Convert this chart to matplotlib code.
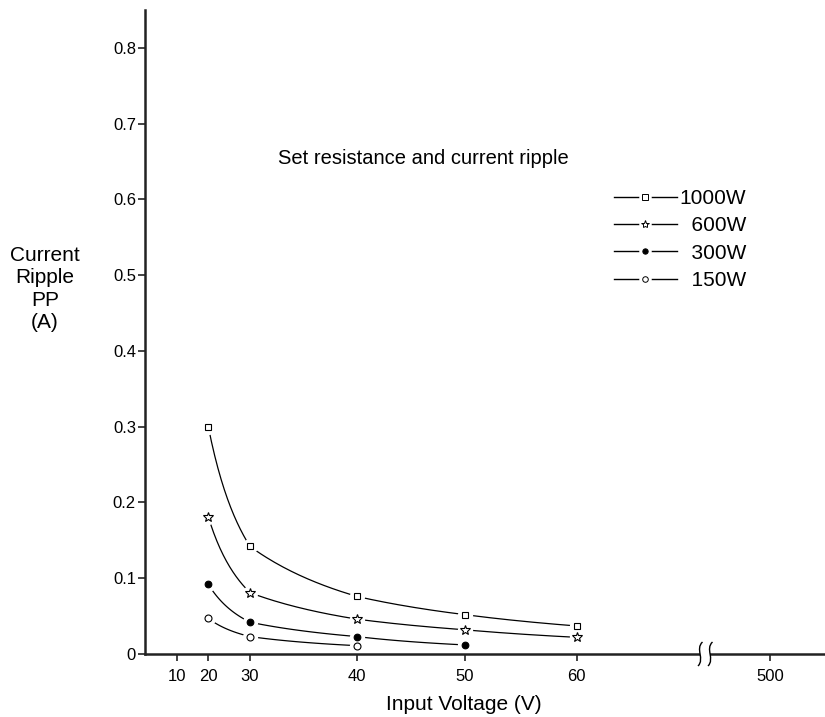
import numpy as np
import matplotlib.pyplot as plt
import matplotlib.transforms as mtransforms
from matplotlib.lines import Line2D
from matplotlib.legend_handler import HandlerTuple
from matplotlib.path import Path
from matplotlib.patches import PathPatch, Rectangle

plt.rcParams['font.family'] = ['Liberation Sans', 'DejaVu Sans']

# --- data -------------------------------------------------------------------
voltage = [20, 30, 40, 50, 60]
ripple_1000w = [0.300, 0.142, 0.076, 0.052, 0.037]
ripple_600w = [0.181, 0.081, 0.046, 0.032, 0.022]
ripple_300w = [0.092, 0.042, 0.023, 0.012]
ripple_150w = [0.047, 0.023, 0.011]

series_labels = ["1000W", "  600W", "  300W", "  150W"]
x_ticks = [10, 20, 30, 40, 50, 60, 500]
y_ticks = [0, 0.1, 0.2, 0.3, 0.4, 0.5, 0.6, 0.7, 0.8]
y_tick_labels = ["0", "0.1", "0.2", "0.3", "0.4", "0.5", "0.6", "0.7", "0.8"]

# the hand-drawn x axis is not linear: piecewise map value -> axis position
knot_v = [0, 10, 20, 30, 40, 50, 60, 500, 600]
knot_pos = [0, 31.6, 63.3, 105, 212, 319.5, 431.7, 625, 680]


def fwd(v):
    return np.interp(v, knot_v, knot_pos)


def inv(p):
    return np.interp(p, knot_pos, knot_v)


def curva(xs, ys, n=40):
    """smooth connecting curve through the points (power law piece by piece)"""
    cx, cy = [], []
    for (x0, y0), (x1, y1) in zip(zip(xs, ys), zip(xs[1:], ys[1:])):
        k = np.log(y1 / y0) / np.log(x1 / x0)
        x = np.linspace(x0, x1, n)
        cx.append(x)
        cy.append(y0 * (x / x0) ** k)
    return np.concatenate(cx), np.concatenate(cy)


fig = plt.figure(figsize=(8.25, 7.17), dpi=100)
ax = fig.add_axes([145 / 825, 63 / 717, 680 / 825, 644 / 717])
ax.set_xscale('function', functions=(fwd, inv))
ax.set_xlim(0, 600)
ax.set_ylim(0, 0.85)

stili = [
    (voltage, ripple_1000w, 's', 4.8, 'white'),
    (voltage, ripple_600w, '*', 7.5, 'white'),
    (voltage[:4], ripple_300w, 'o', 4.8, 'black'),
    (voltage[:3], ripple_150w, 'o', 5.0, 'white'),
]

handles = []
for xs, ys, m, ms, fc in stili:
    cx, cy = curva(xs, ys)
    ax.plot(cx, cy, color='black', lw=0.9, zorder=2)
    ax.plot(xs, ys, ls='none', marker='o', ms=11, mfc='white', mec='none', zorder=3)
    ax.plot(xs, ys, ls='none', marker=m, ms=ms, mfc=fc, mec='black', mew=0.8, zorder=4)
    h_line = Line2D([], [], color='black', lw=1.0)
    h_halo = Line2D([], [], ls='none', marker='o', ms=9, mfc='white', mec='none')
    h_mark = Line2D([], [], ls='none', marker=m, ms=ms * 0.8, mfc=fc, mec='black', mew=0.7)
    handles.append((h_line, h_halo, h_mark))

for s in ['top', 'right']:
    ax.spines[s].set_visible(False)
for s in ['left', 'bottom']:
    ax.spines[s].set_linewidth(1.8)
    ax.spines[s].set_color('#222222')
    ax.spines[s].set_zorder(5)

ax.set_xticks(x_ticks)
ax.set_xticklabels([str(t) for t in x_ticks])
ax.set_yticks(y_ticks)
ax.set_yticklabels(y_tick_labels)
ax.tick_params(axis='both', direction='out', length=5, width=1.2, labelsize=12, color='#222222')
ax.tick_params(axis='y', pad=1.5)
ax.tick_params(axis='x', pad=6)
ax.minorticks_off()

ax.legend(handles, series_labels, handler_map={tuple: HandlerTuple(ndivide=1, pad=0)},
          loc='upper left', bbox_to_anchor=(614 / 825, 1 - 189 / 717),
          bbox_transform=fig.transFigure, frameon=False, fontsize=15,
          handlelength=3.0, handletextpad=0.15, labelspacing=0.4,
          borderpad=0, borderaxespad=0)

fig.text(278 / 825, 1 - 164 / 717, "Set resistance and current ripple",
         fontsize=14.5, ha='left', va='baseline')
fig.text(464 / 825, 1 - 710 / 717, "Input Voltage (V)", fontsize=15,
         ha='center', va='baseline')
fig.text(45 / 825, 1 - 289 / 717, "Current\nRipple\nPP\n(A)", fontsize=15,
         ha='center', va='center', linespacing=1.22)

# axis break mark
rotto = fig.dpi_scale_trans + mtransforms.ScaledTranslation((700 - 145) / 680, 0, ax.transAxes)
ax.add_patch(Rectangle((0.0, -0.03), 0.10, 0.06, transform=rotto, facecolor='white',
                       edgecolor='none', clip_on=False, zorder=6))
for dx in [0.0, 0.10]:
    verts = [(dx + 0.025, 0.12), (dx - 0.05, 0.05), (dx + 0.05, -0.05), (dx - 0.02, -0.12)]
    p = Path(verts, [Path.MOVETO, Path.CURVE4, Path.CURVE4, Path.CURVE4])
    ax.add_patch(PathPatch(p, transform=rotto, facecolor='none', edgecolor='black',
                           lw=1.0, clip_on=False, zorder=7))

fig.savefig("out.png", dpi=100)
